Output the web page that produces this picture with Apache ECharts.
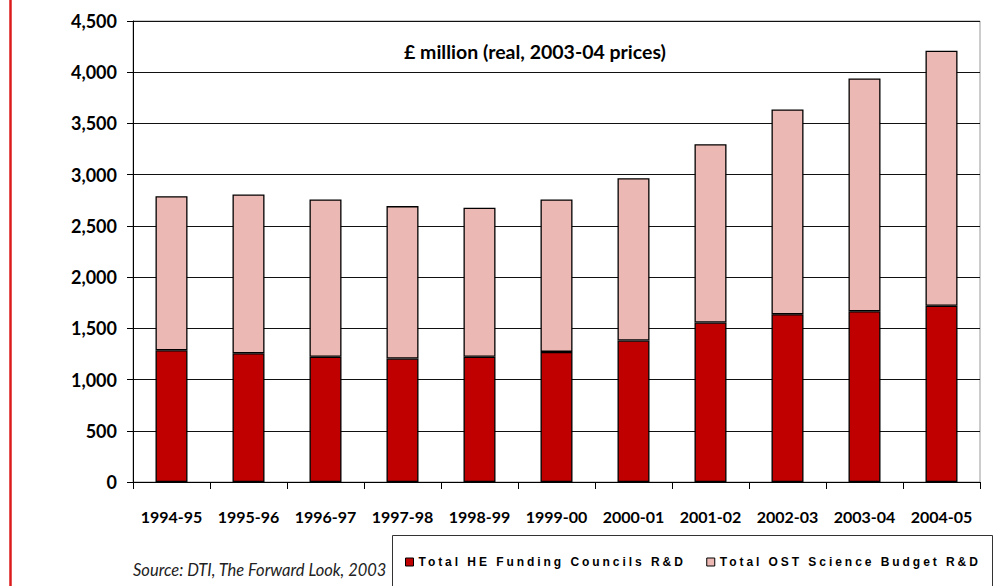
<!DOCTYPE html>
<html>
<head>
<meta charset="utf-8">
<script src="https://cdn.jsdelivr.net/npm/echarts@6/dist/echarts.min.js"></script>
<style>
html,body{margin:0;padding:0;background:#fff;}
#chart{width:1000px;height:586px;}
#chart text[style*="Liberation Sans"]{letter-spacing:2.95px;}
</style>
</head>
<body>
<div id="chart"></div>
<script>
var categories = ['1994-95','1995-96','1996-97','1997-98','1998-99','1999-00','2000-01','2001-02','2002-03','2003-04','2004-05'];
var heValues  = [1286,1257,1222,1205,1222,1270,1381,1557,1638,1667,1720];
var ostValues = [1504,1550,1536,1488,1455,1488,1585,1741,1999,2272,2490];
var seriesNames = ['Total HE Funding Councils R&D','Total OST Science Budget R&D'];
var chartTitle = '£ million (real, 2003-04 prices)';
var sourceNote = 'Source: DTI, The Forward Look, 2003';

var chart = echarts.init(document.getElementById('chart'), null, {renderer:'svg'});
chart.setOption({
  animation:false,
  backgroundColor:'#fff',
  title:[
    {text:chartTitle, left:399, top:36,
     textStyle:{fontFamily:'Lato', fontWeight:'bold', fontSize:19.5, color:'#000'}},
    {text:sourceNote, left:128, top:556,
     textStyle:{fontFamily:'Lato', fontStyle:'italic', fontWeight:'normal', fontSize:16.5, color:'#222'}}
  ],
  grid:{left:133, right:20, top:21, bottom:104, show:true, borderColor:'#999', borderWidth:1, backgroundColor:'transparent'},
  legend:{
    left:392, top:535, padding:[21,0,0,13],
    itemWidth:8, itemHeight:8, itemGap:106, icon:'rect',
    itemStyle:{borderColor:'#000', borderWidth:1},
    textStyle:{fontFamily:'Liberation Sans', fontWeight:'bold', fontSize:12, color:'#000'},
    data:seriesNames
  },
  graphic:[
    {type:'rect', shape:{x:392.5, y:535.5, width:600, height:70}, style:{fill:'none', stroke:'#333', lineWidth:1}, z:-1},
    {type:'line', shape:{x1:10.5, y1:0, x2:10.5, y2:586}, style:{stroke:'#dc1c1c', lineWidth:2.5}}
  ],
  xAxis:{
    type:'category', data:categories, boundaryGap:true,
    axisLine:{lineStyle:{color:'#000', width:1}},
    axisTick:{show:true, length:7, lineStyle:{color:'#000'}},
    axisLabel:{margin:26, fontFamily:'Lato', fontWeight:'bold', fontSize:16, color:'#000', interval:0}
  },
  yAxis:{
    type:'value', min:0, max:4500, interval:500,
    axisLine:{show:true, lineStyle:{color:'#000', width:1}},
    axisTick:{show:true, length:6, lineStyle:{color:'#000'}},
    axisLabel:{margin:16, fontFamily:'Lato', fontWeight:'bold', fontSize:18, color:'#000',
      formatter:function(v){return v.toLocaleString('en-US');}},
    splitLine:{show:true, lineStyle:{color:'#111', width:1}}
  },
  series:[
    {name:seriesNames[0], type:'bar', stack:'total', data:heValues, barWidth:32,
     itemStyle:{color:'#c00000', borderColor:'#000', borderWidth:1.3}},
    {name:seriesNames[1], type:'bar', stack:'total', data:ostValues, barWidth:32,
     itemStyle:{color:'#ecb8b3', borderColor:'#000', borderWidth:1.3}}
  ]
});
</script>
</body>
</html>
